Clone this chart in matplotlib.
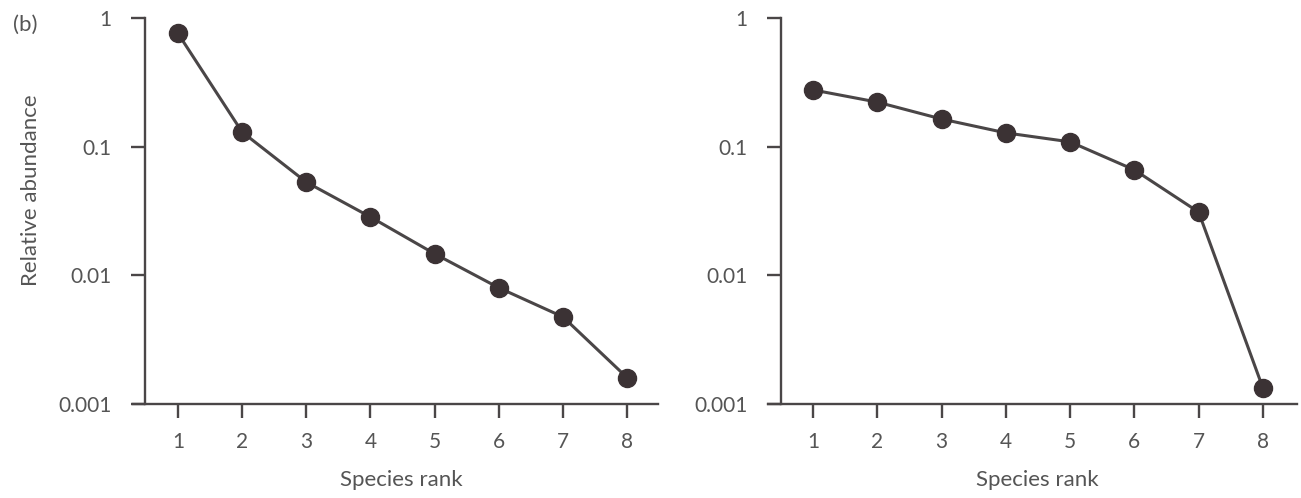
import numpy as np
import matplotlib.pyplot as plt
from matplotlib.ticker import FixedLocator, NullLocator

plt.rcParams['font.family'] = ['Lato', 'DejaVu Sans']

# rank-abundance data for the two communities
rank = [1, 2, 3, 4, 5, 6, 7, 8]
abund_left = [0.76, 0.13, 0.053, 0.0284, 0.0147, 0.0080, 0.00475, 0.0016]
abund_right = [0.276, 0.222, 0.164, 0.128, 0.109, 0.066, 0.031, 0.00133]

yticks = [0.001, 0.01, 0.1, 1]
ylabels = ['0.001', '0.01', '0.1', '1']

ink = '#4a4647'
dot = '#3b3234'
txt = '#555555'

fig = plt.figure(figsize=(13.01, 4.98), dpi=100)
ax1 = fig.add_axes([133/1301, 1-404/498, 525/1301, 386/498])
ax2 = fig.add_axes([768/1301, 1-404/498, 529/1301, 386/498])

def style(ax, y, xlo, xhi, spine_x, lab_x):
    ax.plot(rank, y, color=ink, lw=2.2, zorder=2)
    ax.plot(rank, y, 'o', ms=13, color=dot, zorder=3)
    ax.set_yscale('log')
    ax.set_ylim(0.001, 1)
    ax.set_xlim(xlo, xhi)
    ax.yaxis.set_major_locator(FixedLocator(yticks))
    ax.set_yticklabels(ylabels)
    ax.yaxis.set_minor_locator(NullLocator())
    ax.set_xticks(rank)
    for s in ['top', 'right']:
        ax.spines[s].set_visible(False)
    ax.spines['left'].set_position(('data', spine_x))
    for s in ['left', 'bottom']:
        ax.spines[s].set_color(ink)
        ax.spines[s].set_linewidth(1.7)
    ax.tick_params(axis='both', colors=ink, labelcolor=txt, width=1.7,
                   length=10, labelsize=15)
    ax.tick_params(axis='y', pad=14)
    ax.tick_params(axis='x', pad=10)
    ax.set_xlabel('Species rank', fontsize=16, color=txt, labelpad=13)
    ax.xaxis.label.set_x(lab_x)
    ax.patch.set_visible(False)

style(ax1, abund_left, 0.30, 8.48, 0.485, 0.512)
style(ax2, abund_right, 0.30, 8.53, 0.50, 0.510)

fig.text(13/1301, 1-25/498, '(b)', fontsize=16, color=txt, va='center', ha='left')
fig.text(31/1301, 1-190/498, 'Relative abundance', fontsize=16, color=txt,
         rotation=90, va='center', ha='center')

fig.savefig('out.png', dpi=100)
